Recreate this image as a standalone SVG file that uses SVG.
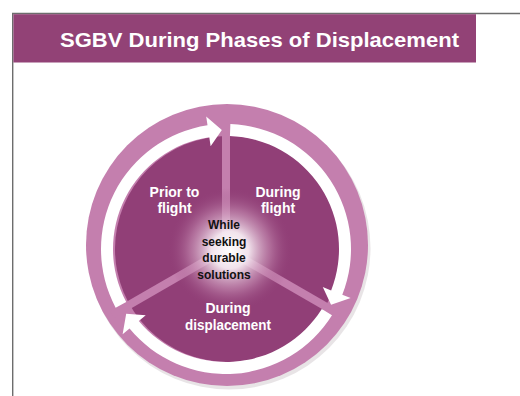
<svg xmlns="http://www.w3.org/2000/svg" width="520" height="396" viewBox="0 0 520 396">
  <style>
    .frame { stroke: #6d6d6d; stroke-width: 1.4; fill: none; }
    .title { font-family: "Liberation Sans", Arial, sans-serif; font-weight: bold; font-size: 21px; fill: #ffffff; }
    .lbl { font-family: "Liberation Sans", Arial, sans-serif; font-weight: bold; font-size: 14px; fill: #ffffff; text-anchor: middle; }
    .ctr { font-family: "Liberation Sans", Arial, sans-serif; font-weight: bold; font-size: 12px; fill: #111111; text-anchor: middle; }
    .divider { stroke: #c47fae; stroke-width: 8; }
    .arrow { fill: #ffffff; }
  </style>
  <defs>
    <radialGradient id="glow" cx="230" cy="250" r="62" gradientUnits="userSpaceOnUse">
      <stop offset="0" stop-color="#ffffff" stop-opacity="1"/>
      <stop offset="0.3" stop-color="#f6ebf2" stop-opacity="0.95"/>
      <stop offset="0.65" stop-color="#c992b6" stop-opacity="0.55"/>
      <stop offset="1" stop-color="#913f77" stop-opacity="0"/>
    </radialGradient>
  </defs>
  <rect x="0" y="0" width="520" height="396" fill="#ffffff"/>
  <g id="frame">
    <line class="frame" x1="12.7" y1="13" x2="12.7" y2="396"/>
    <line class="frame" x1="12" y1="13.5" x2="520" y2="13.5"/>
  </g>
  <g id="title">
    <rect x="13.4" y="14.2" width="462.6" height="48.3" fill="#924276"/>
    <text class="title" x="60" y="47" textLength="399" lengthAdjust="spacingAndGlyphs">SGBV During Phases of Displacement</text>
  </g>
  <g id="cycle-base">
    <circle cx="229" cy="248" r="141.5" fill="#d9d2d6" opacity="0.6"/>
    <circle cx="227" cy="245" r="141" fill="#c47fae"/>
    <circle cx="228" cy="249" r="113" fill="#913f77"/>
  </g>
  <g id="connectors">
    <g id="dividers">
      <line class="divider" x1="226" y1="249" x2="226" y2="118"/>
      <line class="divider" x1="226" y1="249" x2="340" y2="314.8"/>
      <line class="divider" x1="226" y1="249" x2="112" y2="314.8"/>
    </g>
    <path id="arrow-prior-to-flight" class="arrow" d="M115.64,307.69 A125,125 0 0 1 207.52,125.37 L206.19,116.47 L221.85,130.07 L210.63,146.14 L209.30,137.24 A113,113 0 0 0 126.23,302.05 Z"/>
    <path id="arrow-during-flight" class="arrow" d="M230.36,124.07 A125,125 0 0 1 342.30,294.81 L350.67,298.11 L331.07,304.87 L322.76,287.12 L331.14,290.41 A113,113 0 0 0 229.94,136.07 Z"/>
    <path id="arrow-during-displacement" class="arrow" d="M332.00,315.24 A125,125 0 0 1 129.55,328.51 L122.61,334.24 L126.19,313.81 L145.75,315.15 L138.81,320.88 A113,113 0 0 0 321.82,308.88 Z"/>
  </g>
  <circle id="center-glow" cx="230" cy="250" r="62" fill="url(#glow)"/>
  <g id="node-prior-to-flight">
    <text class="lbl" x="174.5" y="197">Prior to</text>
    <text class="lbl" x="174.5" y="213">flight</text>
  </g>
  <g id="node-during-flight">
    <text class="lbl" x="278" y="197">During</text>
    <text class="lbl" x="278" y="213">flight</text>
  </g>
  <g id="node-during-displacement">
    <text class="lbl" x="228" y="313">During</text>
    <text class="lbl" x="228" y="330" textLength="86" lengthAdjust="spacingAndGlyphs">displacement</text>
  </g>
  <g id="node-durable-solutions">
    <text class="ctr" x="224" y="229">While</text>
    <text class="ctr" x="224" y="245.6">seeking</text>
    <text class="ctr" x="224" y="262.3">durable</text>
    <text class="ctr" x="224" y="279">solutions</text>
  </g>
</svg>
